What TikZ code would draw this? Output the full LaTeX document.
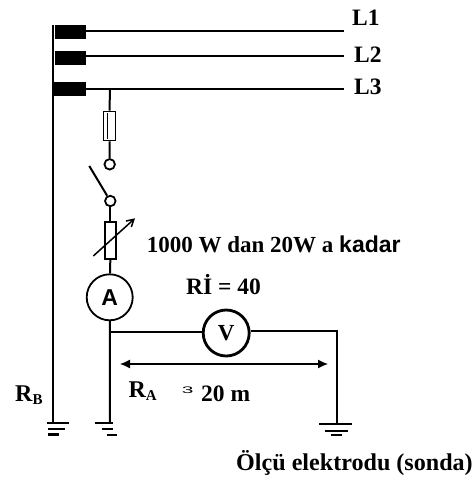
\documentclass[tikz,border=0pt]{standalone}
\usepackage{fontspec}
\setmainfont{Liberation Serif}
\newfontfamily\arialf{Liberation Sans}
\usetikzlibrary{arrows.meta}
\tikzset{
  wire/.style={line width=2pt},
  sym/.style={circle,draw,fill=white,inner sep=0pt,minimum size=10.5pt,line width=1.8pt},
  meter/.style={circle,draw,fill=white,inner sep=0pt,minimum size=46pt},
  lab/.style={font=\fontsize{23.5}{26}\selectfont\bfseries,inner sep=0pt,anchor=base west},
  rlab/.style={lab,font=\fontsize{24}{26}\selectfont\bfseries},
  blk/.style={draw=none,fill=black,inner sep=0pt,anchor=north west}
}
\newcommand{\subtxt}[1]{\raisebox{-3pt}{\fontsize{15}{17}\selectfont #1}}
\begin{document}
\begin{tikzpicture}[x=1pt,y=-1pt]
\useasboundingbox (0,0) rectangle (474,477);
\coordinate (bt) at (53,25); \coordinate (bb) at (53,423);
\draw[wire] (bt) -- (bb);
\node[blk,minimum width=31pt,minimum height=14pt] (b1) at (55,24.3) {};
\node[blk,minimum width=31pt,minimum height=14pt] (b2) at (55,50.3) {};
\node[blk,minimum width=32.6pt,minimum height=14pt] (b3) at (52.7,82.2) {};
\coordinate (e1) at (344,30.7); \coordinate (e2) at (344,56.3); \coordinate (e3) at (344,89);
\draw[wire] (b1.east |- e1) -- (e1);
\draw[wire] (b2.east |- e2) -- (e2);
\draw[wire] (b3.east |- e3) -- (e3);
\node[lab] (l1) at (352,25) {L1};
\node[lab] (l2) at (354,62) {L2};
\node[lab] (l3) at (354,94) {L3};
\coordinate (t) at (110,89);
\node[draw,line width=1.8pt,minimum width=12pt,minimum height=29pt,inner sep=0pt] (fuse) at (109.5,126) {};
\draw[line width=1.2pt] (107.3,113) -- (107.3,139);
\node[sym] (c1) at (109.7,164.3) {};
\node[sym] (c2) at (110.3,201) {};
\coordinate (blade) at (89.3,166);
\node[draw,line width=1.8pt,minimum width=11pt,minimum height=36.5pt,inner sep=0pt] (res) at (110.3,240.5) {};
\coordinate (aa) at (93.3,256); \coordinate (ab) at (135,218.3);
\draw[line width=1.5pt,-{Straight Barb[length=7pt,width=8pt]}] (aa) -- (ab);
\node[meter,line width=1.8pt,font=\arialf\bfseries\fontsize{23}{25}\selectfont] (A) at (109.7,297.3) {A};
\node[meter,line width=2.8pt,font=\bfseries\fontsize{23}{25}\selectfont] (V) at (226.2,333) {V};
\coordinate (j) at (110,332.3);
\coordinate (g2) at (110,423.3); \coordinate (r) at (336.7,331); \coordinate (g3) at (336.7,423.5);
\draw[wire] (t) -- (fuse.north);
\draw[wire] (fuse.south) -- (c1);
\draw[wire] (c2) -- (blade);
\draw[wire] (c2) -- (res.north);
\draw[wire] (res.south) -- (A);
\draw[wire] (A) -- (g2);
\draw[wire] (j) -- (V.west |- j);
\draw[wire] (V.east |- r) -- (r) -- (g3);
% earths
\draw[line width=2.2pt] (47.3,423.3) -- (69.3,423.3) (47.7,429.3) -- (65.3,429.3) (48.3,434.5) -- (59.3,434.5);
\draw[line width=2.2pt] (94.7,423.3) -- (112.7,423.3) (101.7,429.3) -- (113.3,429.3);
\draw[line width=1.2pt] (106.7,435) -- (117.3,435);
\draw[line width=2.2pt] (319.3,423.7) -- (352.3,423.7) (324.7,430.7) -- (348,430.7) (330.7,435.3) -- (342.3,435.3);
\coordinate (dl) at (120,364); \coordinate (dr) at (328,364);
\draw[line width=1.2pt,{Latex[length=10pt,width=9pt]}-{Latex[length=10pt,width=9pt]}] (dl) -- (dr);
\node[lab,font=\fontsize{23}{26}\selectfont\bfseries] (ohm) at (146.7,252.7) {1000 W dan 20W a {\arialf\bfseries kadar}};
\node[lab] (ri) at (186,294.3) {Rİ = 40};
\node[rlab] (rb) at (15,401.7) {R\subtxt{B}};
\node[rlab] (ra) at (128.3,397.3) {R\subtxt{A}};
\node[lab,font=\arialf\fontsize{9.5}{11}\selectfont] (ge) at (181.7,393.3) {\scalebox{2.2}[1]{3}};
\node[lab] (m) at (201,401.7) {20 m};
\node[lab,font=\fontsize{24.1}{26}\selectfont\bfseries] (ol) at (236,470) {Ölçü elektrodu (sonda)};
\end{tikzpicture}
\end{document}
